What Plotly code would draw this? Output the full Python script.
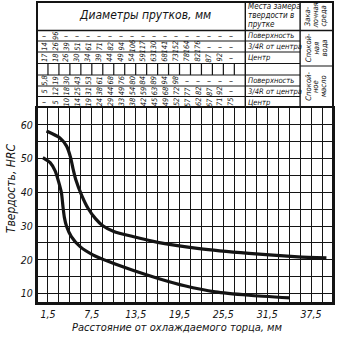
import plotly.graph_objects as go

# ---------------- data ----------------
# Jominy curves: distance from quenched end (mm) vs hardness (HRC)
dist_upper = [1.3, 3.1, 4.05, 4.6, 4.95, 5.3, 6.1, 7.0, 8.0, 9.0, 10.5, 13.1, 16.7, 22.2, 29.0, 35.7, 39.6]
hrc_upper = [58.2, 56.2, 53.7, 50.3, 46.8, 43.8, 39.2, 35.2, 32.2, 30.1, 28.4, 26.9, 25.1, 23.3, 21.9, 20.9, 20.6]

dist_lower = [0.8, 1.8, 2.5, 3.0, 3.35, 3.55, 3.75, 4.05, 4.7, 5.9, 7.7, 9.9, 13.1, 16.7, 20.2, 24.4, 29.0, 34.6]
hrc_lower = [50.3, 48.8, 46.3, 42.8, 39.8, 35.8, 32.5, 29.9, 26.9, 23.9, 21.4, 19.4, 16.9, 14.4, 12.3, 10.5, 9.5, 8.7]

# Axis tick labels
x_label_vals = [1.5, 7.5, 13.5, 19.5, 25.5, 31.5, 37.5]
x_label_text = ["1,5", "7,5", "13,5", "19,5", "25,5", "31,5", "37,5"]
y_label_vals = [10, 20, 30, 40, 50, 60]
y_label_text = ["10", "20", "30", "40", "50", "60"]

# Nomogram table: bar diameters (mm), one entry per 1.5 mm column
water_surface = ["—", "96", "—", "—", "—", "—", "—", "—", "—", "—", "—", "—", "—", "—", "—", "—", "—", "—"]
water_34r = ["14", "26", "39", "51", "61", "71", "82", "94", "106", "117", "130", "141", "152", "164", "176", "—", "—", "—"]
water_center = ["17", "18", "26", "30", "34", "39", "44", "49", "54", "59", "63", "68", "73", "78", "82", "87", "92", "—"]
oil_surface = ["5,8", "19", "30", "43", "53", "61", "68", "76", "80", "84", "89", "94", "98", "—", "—", "—", "—", "—"]
oil_34r = ["5", "12", "18", "25", "31", "38", "44", "49", "54", "59", "63", "68", "72", "77", "82", "87", "92", "—"]
oil_center = ["—", "5", "10", "14", "19", "24", "29", "33", "38", "42", "45", "49", "52", "57", "62", "67", "71", "75"]

place_labels = ["Поверхность", "3/4R от центра", "Центр", "Поверхность", "3/4R от центра", "Центр"]
header_diam = "Диаметры прутков, мм"
header_place = ["Места замера", "твердости в", "прутке"]
header_medium = ["Зака-", "лочная", "среда"]
medium_water = ["Спокой-", "ная", "вода"]
medium_oil = ["Спокой-", "ное", "масло"]

x_title = "Расстояние от охлаждаемого торца, мм"
y_title = "Твердость, HRC"

# ---------------- layout geometry ----------------
W = H = 338
L, R, T, B = 37, 3, 108, 35
XMIN, XMAX = 0.0, 40.5
YMIN, YMAX = 7.2, 65.0
COL = 1.5
FONT = "Liberation Sans Narrow, DejaVu Sans Condensed, Liberation Sans, Arial, sans-serif"
INK = "#141414"


def py(Y):
    return (H - B - Y) / (H - T - B)


def pxm(mm):
    return (mm - XMIN) / (XMAX - XMIN)


def ppx(X):
    return (X - L) / (W - L - R)


fig = go.Figure()
for xs, ys in ((dist_upper, hrc_upper), (dist_lower, hrc_lower)):
    fig.add_trace(go.Scatter(x=xs, y=ys, mode="lines", hoverinfo="skip",
                             line=dict(color=INK, width=3.2, shape="spline", smoothing=0.6)))

# grid positions (every 1.5 mm / every 5 HRC) with labels on selected ones
x_grid = [round(COL * k, 2) for k in range(1, 27)]
x_text = [x_label_text[x_label_vals.index(v)] if v in x_label_vals else "" for v in x_grid]
y_grid = list(range(10, 65, 5))
y_text = [y_label_text[y_label_vals.index(v)] if v in y_label_vals else "" for v in y_grid]

shapes = []


def hline(y, x0, x1, w=1.2):
    shapes.append(dict(type="line", xref="paper", yref="paper", x0=x0, x1=x1, y0=py(y), y1=py(y),
                       line=dict(color=INK, width=w)))


def vline(xp, y0, y1, w=1.2):
    shapes.append(dict(type="line", xref="paper", yref="paper", x0=xp, x1=xp, y0=py(y0), y1=py(y1),
                       line=dict(color=INK, width=w)))


# outer frame of table + plot
shapes.append(dict(type="rect", xref="paper", yref="paper", x0=0, x1=1, y0=0, y1=py(2),
                   line=dict(color=INK, width=2)))
hline(30.5, 0, 1, 1.4)
row_lines = [41, 52, 63.5, 75, 86, 96.5]
for y in row_lines:
    hline(y, 0, pxm(36))
hline(66, pxm(36), 1)
vline(pxm(28.5), 108, 2, 1.4)
vline(pxm(36), 108, 2, 1.4)
for k in range(1, 19):
    vline(pxm(COL * k), 63.5, 75)

ann = []


def add(x, xref, y, text, size, italic=True, angle=0, xanchor="center"):
    ann.append(dict(x=x, xref=xref, y=y, yref="paper", text=text, showarrow=False,
                    xanchor=xanchor, yanchor="middle", textangle=angle,
                    font=dict(family=FONT, size=size, color=INK, style="italic" if italic else "normal")))


add(14.8, "x", py(15.5), header_diam, 12)
for t, yy in zip(header_place, [6.5, 15.5, 24.5]):
    add(pxm(28.5) + 0.003, "paper", py(yy), t, 8.0, xanchor="left")
row_centers = [35.75, 46.5, 57.75, 80.5, 91.25, 102.25]
for t, yy in zip(place_labels, row_centers):
    add(pxm(28.5) + 0.003, "paper", py(yy), t, 7.6, xanchor="left")
for group, yy in ((header_medium, 16), (medium_water, 48), (medium_oil, 86.5)):
    for t, xx in zip(group, [310, 317.5, 325.5]):
        add(ppx(xx), "paper", py(yy), t, 7.6, angle=-90)

rows = [water_surface, water_34r, water_center, oil_surface, oil_34r, oil_center]
for row, yy in zip(rows, row_centers):
    for k, t in enumerate(row):
        if t == "—":
            add(COL * k + 1.0, "x", py(yy), "–", 9, italic=False)
        else:
            add(COL * k + 1.0, "x", py(yy), t, 7.4, angle=-90)

add(ppx(178), "paper", py(327.5), x_title, 11)
add(ppx(11), "paper", py(188), y_title, 12, angle=-90)

axis_common = dict(showgrid=True, gridcolor=INK, gridwidth=1.1, zeroline=False, showline=True,
                   mirror=True, linecolor=INK, linewidth=2, ticks="", fixedrange=True,
                   tickfont=dict(family=FONT, size=10.5, color=INK, style="italic"))

fig.update_layout(
    width=W, height=H, margin=dict(l=L, r=R, t=T, b=B, pad=0),
    paper_bgcolor="white", plot_bgcolor="white", showlegend=False,
    xaxis=dict(range=[XMIN, XMAX], tickmode="array", tickvals=x_grid, ticktext=x_text, **axis_common),
    yaxis=dict(range=[YMIN, YMAX], tickmode="array", tickvals=y_grid, ticktext=y_text, **axis_common),
    shapes=shapes, annotations=ann,
)

fig.write_html("out.html")
